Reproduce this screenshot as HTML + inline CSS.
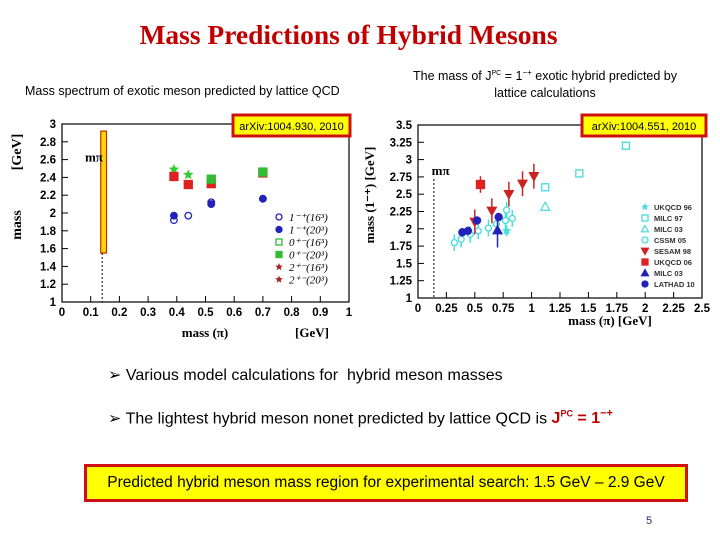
<!DOCTYPE html>
<html><head><meta charset="utf-8"><style>
body{margin:0;width:720px;height:540px;background:#fff;position:relative;overflow:hidden;font-family:"Liberation Sans",sans-serif}
.t{position:absolute;white-space:nowrap}
</style></head><body>
<div class="t" style="left:0;width:697px;text-align:center;top:19px;font-family:'Liberation Serif',serif;font-weight:bold;font-size:27.5px;color:#c00000">Mass Predictions of Hybrid Mesons</div>
<div class="t" style="left:25px;top:84px;font-size:12.5px">Mass spectrum of exotic meson predicted by lattice QCD</div>
<div class="t" style="left:380px;width:330px;text-align:center;top:64px;font-size:12.5px;line-height:17px">The mass of J<sup style="font-size:7px">PC</sup> = 1<sup style="font-size:8px">−+</sup> exotic hybrid predicted by<br>lattice calculations</div>
<svg id="chart" width="720" height="540" style="position:absolute;left:0;top:0"></svg>
<div class="t" style="left:108px;top:365px;font-size:16px">➢ Various model calculations for &nbsp;hybrid meson masses</div>
<div class="t" style="left:108px;top:408px;font-size:16px">➢ The lightest hybrid meson nonet predicted by lattice QCD is <b style="color:#c00000">J<sup style="font-size:9px">PC</sup> = 1<sup style="font-size:11px">−+</sup></b></div>
<div class="t" style="left:84px;top:464px;width:598px;height:32px;background:#ffff00;border:3px solid #d01010;font-size:15.5px;line-height:32px;text-align:center">Predicted hybrid meson mass region for experimental search: 1.5 GeV – 2.9 GeV</div>
<div class="t" style="left:646px;top:515px;font-size:11px;color:#203070">5</div>
<script>
const NS='http://www.w3.org/2000/svg';
const svg=document.getElementById('chart');
function mk(tag,at,txt){const e=document.createElementNS(NS,tag);for(const k in at)e.setAttribute(k,at[k]);if(txt!==undefined)e.textContent=txt;svg.appendChild(e);return e;}
// ---- left chart data
const L_xticks=[0,0.1,0.2,0.3,0.4,0.5,0.6,0.7,0.8,0.9,1];
const L_yticks=[1,1.2,1.4,1.6,1.8,2,2.2,2.4,2.6,2.8,3];
const L_open1x=[0.39,0.44,0.52], L_open1y=[1.92,1.97,2.12];
const L_fill1x=[0.39,0.52,0.70], L_fill1y=[1.97,2.10,2.16];
const L_redx=[0.39,0.44,0.52,0.70], L_redy=[2.41,2.32,2.33,2.45];
const L_grnx=[0.52,0.70], L_grny=[2.38,2.46];
const L_starx=[0.39,0.44], L_stary=[2.49,2.43];
// ---- right chart data
const R_xticks=[0,0.25,0.5,0.75,1,1.25,1.5,1.75,2,2.25,2.5];
const R_yticks=[1,1.25,1.5,1.75,2,2.25,2.5,2.75,3,3.25,3.5];
const R_cssmx=[0.32,0.38,0.46,0.53,0.62,0.69,0.77,0.78,0.83], R_cssmy=[1.8,1.85,1.92,1.97,2.01,2.07,2.12,2.27,2.15];
const R_milc97x=[1.12,1.42,1.83], R_milc97y=[2.6,2.8,3.2];
const R_sesamx=[0.5,0.65,0.8,0.92,1.02], R_sesamy=[2.1,2.26,2.5,2.65,2.76];
const R_ukqcd06x=[0.55], R_ukqcd06y=[2.64];
const R_lathadx=[0.39,0.44,0.52,0.71], R_lathady=[1.95,1.97,2.12,2.17];
const R_milc03x=[0.7], R_milc03y=[1.98];
const R_milc03cx=[1.12], R_milc03cy=[2.32];
const R_ukqcd96x=[0.78], R_ukqcd96y=[1.97];

const Lx=v=>62+v*(349-62), Ly=v=>302-(v-1)/2*(302-124);
const Rx=v=>418+v/2.5*(702-418), Ry=v=>298-(v-1)/2.5*(298-125);
function axes(X,Y,xt,yt,x0,x1,y0,y1,pre){
  const r=mk('rect',{x:X(x0),y:Y(y1),width:X(x1)-X(x0),height:Y(y0)-Y(y1),fill:'none',stroke:'#000','stroke-width':1.2});
  
  xt.forEach(v=>{mk('line',{x1:X(v),x2:X(v),y1:Y(y0),y2:Y(y0)-6,stroke:'#000'});
    const t=mk('text',{x:X(v),y:Y(y0)+14,'font-size':11.5,'font-weight':'bold','text-anchor':'middle'},+v.toFixed(2)+'');
    });
  yt.forEach(v=>{mk('line',{x1:X(x0),x2:X(x0)+6,y1:Y(v),y2:Y(v),stroke:'#000'});
    const t=mk('text',{x:X(x0)-6,y:Y(v)+4,'font-size':11.5,'font-weight':'bold','text-anchor':'end'},+v.toFixed(2)+'');
    });
}
axes(Lx,Ly,L_xticks,L_yticks,0,1,1,3,'left');
axes(Rx,Ry,R_xticks,R_yticks,0,2.5,1,3.5,'right');
let e=mk('rect',{x:Lx(0.135),y:Ly(2.92),width:Lx(0.155)-Lx(0.135),height:Ly(1.55)-Ly(2.92),fill:'#ffd700',stroke:'#c03000','stroke-width':1.2});

mk('line',{x1:Lx(0.14),x2:Lx(0.14),y1:Ly(1.55),y2:Ly(1),stroke:'#000','stroke-dasharray':'2,2'});
mk('text',{x:Lx(0.08),y:Ly(2.58),'font-size':13,'font-family':'Liberation Serif','font-weight':'bold'},'mπ');
e=mk('text',{x:205,y:337,'font-size':13,'font-family':'Liberation Serif','font-weight':'bold','text-anchor':'middle'},'mass (π)');

mk('text',{x:312,y:337,'font-size':13,'font-family':'Liberation Serif','font-weight':'bold','text-anchor':'middle'},'[GeV]');
e=mk('text',{x:0,y:0,'font-size':14,'font-family':'Liberation Serif','font-weight':'bold','text-anchor':'middle',transform:'translate(21,225) rotate(-90)'},'mass');

mk('text',{x:0,y:0,'font-size':14,'font-family':'Liberation Serif','font-weight':'bold','text-anchor':'middle',transform:'translate(21,152) rotate(-90)'},'[GeV]');
function circ(x,y,fill,col,pre,r=3.3){const c=mk('circle',{cx:x,cy:y,r:r,fill:fill?col:'#fff',stroke:col,'stroke-width':1.3});}
function sq(x,y,fill,col,pre,s=4){const c=mk('rect',{x:x-s,y:y-s,width:2*s,height:2*s,fill:fill?col:'#fff',stroke:col,'stroke-width':1.3});}
function star(x,y,col,pre,s=5.5){let p='';for(let i=0;i<10;i++){const r=i%2?s*0.45:s,a=-Math.PI/2+i*Math.PI/5;p+=(x+r*Math.cos(a))+','+(y+r*Math.sin(a))+' ';}
  const c=mk('polygon',{points:p,fill:col});}
function tri(x,y,col,down,fill,pre,s=4.5){const d=down?-1:1;const c=mk('polygon',{points:`${x},${y-d*s} ${x-s},${y+d*s*0.8} ${x+s},${y+d*s*0.8}`,fill:fill?col:'#fff',stroke:col,'stroke-width':1.2});}
L_starx.forEach((v,i)=>star(Lx(v),Ly(L_stary[i]),'#33cc33','left-point-star'));
L_redx.forEach((v,i)=>sq(Lx(v),Ly(L_redy[i]),true,'#dd2222','left-point-2pm'));
L_grnx.forEach((v,i)=>sq(Lx(v),Ly(L_grny[i]),true,'#33bb33','left-point-0pm'));
L_open1x.forEach((v,i)=>circ(Lx(v),Ly(L_open1y[i]),false,'#2222bb','left-point-1p-16'));
L_fill1x.forEach((v,i)=>circ(Lx(v),Ly(L_fill1y[i]),true,'#2222bb','left-point-1p-20'));
const Lleg=[['circO','#2222bb','1⁻⁺(16³)'],['circF','#2222bb','1⁻⁺(20³)'],['sqO','#33bb33','0⁺⁻(16³)'],['sqF','#33bb33','0⁺⁻(20³)'],['starO','#aa2222','2⁺⁻(16³)'],['starF','#aa2222','2⁺⁻(20³)']];
Lleg.forEach((l,i)=>{const y=217+i*12.5,x=279;
  if(l[0]=='circO')circ(x,y,false,l[1],'left-legend-marker',3);if(l[0]=='circF')circ(x,y,true,l[1],'left-legend-marker',3);
  if(l[0]=='sqO')sq(x,y,false,l[1],'left-legend-marker',3);if(l[0]=='sqF')sq(x,y,true,l[1],'left-legend-marker',3);
  if(l[0].startsWith('star'))star(x,y,l[1],'left-legend-marker',4);
  const t=mk('text',{x:289,y:y+4,'font-size':11,'font-style':'italic','font-family':'Liberation Serif'},l[2]);
  });
mk('line',{x1:Rx(0.14),x2:Rx(0.14),y1:Ry(2.72),y2:Ry(1),stroke:'#000','stroke-dasharray':'2,2'});
mk('text',{x:Rx(0.12),y:Ry(2.78),'font-size':13,'font-family':'Liberation Serif','font-weight':'bold'},'mπ');
e=mk('text',{x:610,y:325,'font-size':13,'font-family':'Liberation Serif','font-weight':'bold','text-anchor':'middle'},'mass (π)  [GeV]');

e=mk('text',{x:0,y:0,'font-size':13,'font-family':'Liberation Serif','font-weight':'bold','text-anchor':'middle',transform:'translate(374,195) rotate(-90)'},'mass (1⁻⁺)  [GeV]');

function err(X,Y,x,y,h,col){mk('line',{x1:X(x),x2:X(x),y1:Y(y-h),y2:Y(y+h),stroke:col,'stroke-width':1.5});}
R_cssmx.forEach((v,i)=>{err(Rx,Ry,v,R_cssmy[i],0.12,'#44dddd');circ(Rx(v),Ry(R_cssmy[i]),false,'#44dddd','right-point-cssm',3);});
R_milc97x.forEach((v,i)=>{err(Rx,Ry,v,R_milc97y[i],0.06,'#44dddd');sq(Rx(v),Ry(R_milc97y[i]),false,'#44dddd','right-point-milc97',3.5);});
R_milc03cx.forEach((v,i)=>tri(Rx(v),Ry(R_milc03cy[i]),'#44dddd',false,false,'right-point-milc03-open'));
R_ukqcd96x.forEach((v,i)=>{err(Rx,Ry,v,R_ukqcd96y[i],0.08,'#44dddd');star(Rx(v),Ry(R_ukqcd96y[i]),'#44dddd','right-point-ukqcd96',5);});
R_sesamx.forEach((v,i)=>{err(Rx,Ry,v,R_sesamy[i],0.18,'#cc2222');tri(Rx(v),Ry(R_sesamy[i]),'#cc2222',true,true,'right-point-sesam');});
R_ukqcd06x.forEach((v,i)=>{err(Rx,Ry,v,R_ukqcd06y[i],0.12,'#cc2222');sq(Rx(v),Ry(R_ukqcd06y[i]),true,'#dd2222','right-point-ukqcd06');});
R_milc03x.forEach((v,i)=>{err(Rx,Ry,v,R_milc03y[i],0.25,'#2222bb');tri(Rx(v),Ry(R_milc03y[i]),'#2222bb',false,true,'right-point-milc03');});
R_lathadx.forEach((v,i)=>{err(Rx,Ry,v,R_lathady[i],0.06,'#2222bb');circ(Rx(v),Ry(R_lathady[i]),true,'#2222bb','right-point-lathad',3.5);});
const Rleg=[['star','#44dddd','UKQCD 96'],['sqO','#44dddd','MILC 97'],['triO','#44dddd','MILC 03'],['circO','#44dddd','CSSM 05'],['triD','#cc2222','SESAM 98'],['sqF','#dd2222','UKQCD 06'],['triF','#2222bb','MILC 03'],['circF','#2222bb','LATHAD 10']];
Rleg.forEach((l,i)=>{const y=207+i*11,x=645;
  if(l[0]=='star')star(x,y,l[1],'right-legend-marker',4);if(l[0]=='sqO')sq(x,y,false,l[1],'right-legend-marker',3);
  if(l[0]=='triO')tri(x,y,l[1],false,false,'right-legend-marker',3.5);if(l[0]=='circO')circ(x,y,false,l[1],'right-legend-marker',3);
  if(l[0]=='triD')tri(x,y,l[1],true,true,'right-legend-marker',3.5);if(l[0]=='sqF')sq(x,y,true,l[1],'right-legend-marker',3);
  if(l[0]=='triF')tri(x,y,l[1],false,true,'right-legend-marker',3.5);if(l[0]=='circF')circ(x,y,true,l[1],'right-legend-marker',3);
  const t=mk('text',{x:654,y:y+3,'font-size':7.5,'font-weight':'bold','fill':'#333'},l[2]);
  });
function badge(x,y,w,txt,n){const r=mk('rect',{x:x,y:y,width:w,height:21,fill:'#ffff00',stroke:'#d01010','stroke-width':3});
  mk('text',{x:x+w/2,y:y+15,'font-size':11,'text-anchor':'middle'},txt);}
badge(233,115,117,'arXiv:1004.930, 2010','left-arxiv-badge');
badge(582,115,124,'arXiv:1004.551, 2010','right-arxiv-badge');
</script>
</body></html>
